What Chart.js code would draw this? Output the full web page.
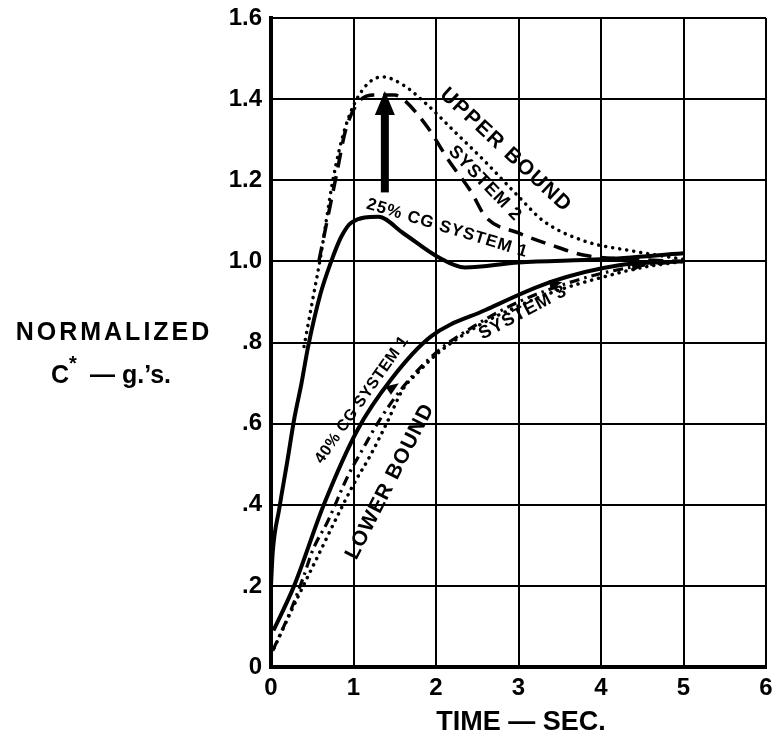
<!DOCTYPE html>
<html>
<head>
<meta charset="utf-8">
<script src="https://cdn.jsdelivr.net/npm/chart.js@4.4.0/dist/chart.umd.min.js"></script>
<style>
html,body{margin:0;padding:0;background:#fff;}
#c{display:block;}
</style>
</head>
<body>
<canvas id="c" width="772" height="740"></canvas>
<script>
// ---- data ----
const xTickValues = [0, 1, 2, 3, 4, 5, 6];
const yTickValues = [0, 0.2, 0.4, 0.6, 0.8, 1.0, 1.2, 1.4, 1.6];
const yTickLabels = ['0', '.2', '.4', '.6', '.8', '1.0', '1.2', '1.4', '1.6'];

const upperBoundX = [0.4, 0.5, 0.6, 0.75, 0.9, 1.1, 1.35, 1.6, 1.9, 2.2, 2.6, 3.0, 3.3, 3.8, 4.4, 5.0];
const upperBoundY = [0.79, 0.9, 1.01, 1.2, 1.33, 1.42, 1.455, 1.435, 1.385, 1.325, 1.245, 1.16, 1.10, 1.05, 1.025, 1.005];

const system2X = [0.58, 0.7, 0.8, 0.9, 1.05, 1.25, 1.5, 1.6, 1.9, 2.15, 2.43, 2.6, 3.0, 3.4, 3.8, 4.4, 5.0];
const system2Y = [1.0, 1.12, 1.22, 1.32, 1.39, 1.41, 1.41, 1.40, 1.33, 1.25, 1.17, 1.11, 1.07, 1.04, 1.015, 1.005, 1.0];

const cg25X = [0, 0.02, 0.1, 0.2, 0.28, 0.37, 0.45, 0.6, 0.73, 0.85, 0.97, 1.3, 1.6, 2.03, 2.35, 3.0, 4.0, 5.0];
const cg25Y = [0.2, 0.28, 0.39, 0.51, 0.61, 0.70, 0.79, 0.92, 1.0, 1.06, 1.095, 1.11, 1.07, 1.01, 0.985, 0.997, 1.005, 1.02];

const cg40X = [0.03, 0.28, 0.64, 1.05, 1.46, 1.94, 2.6, 3.4, 4.2, 5.0];
const cg40Y = [0.09, 0.2, 0.40, 0.585, 0.71, 0.815, 0.88, 0.95, 0.99, 1.0];

const system3X = [0.02, 0.23, 0.39, 0.51, 0.69, 0.93, 1.12, 1.32, 1.6, 2.0, 2.5, 3.0, 3.5, 4.0, 4.5, 5.0];
const system3Y = [0.04, 0.135, 0.22, 0.29, 0.36, 0.47, 0.54, 0.61, 0.69, 0.775, 0.845, 0.9, 0.94, 0.97, 0.99, 1.0];

const lowerBoundX = [0.0, 0.32, 0.56, 0.8, 1.0, 1.2, 1.4, 1.6, 1.8, 2.0, 2.5, 3.0, 3.5, 4.0, 4.5, 5.0];
const lowerBoundY = [0.03, 0.17, 0.27, 0.37, 0.45, 0.52, 0.6, 0.685, 0.73, 0.77, 0.84, 0.89, 0.93, 0.96, 0.985, 1.0];

// big arrow (data units)
const arrowX = 1.38, arrowFromY = 1.17, arrowToY = 1.42;
// small arrowheads along the lower curves
const markX = [1.48, 3.45, 4.45];
const markY = [0.69, 0.945, 0.99];

// curve labels
const labelTexts = ['UPPER BOUND', 'SYSTEM 2', '25% CG SYSTEM 1', '40% CG SYSTEM 1', 'LOWER BOUND', 'SYSTEM 3'];
const labelX = [2.84, 2.59, 2.13, 1.10, 1.44, 3.05];
const labelY = [1.275, 1.193, 1.082, 0.658, 0.456, 0.873];

// ---- build ----
function pts(xs, ys) { return xs.map((x, i) => ({x: x, y: ys[i]})); }
const FONT = "'Liberation Sans', Arial, Helvetica, sans-serif";

const labelStyle = [
  {angle: 43, size: 21, sp: 1.5},
  {angle: 46, size: 18, sp: 1},
  {angle: 17, size: 17, sp: 1},
  {angle: -55, size: 16, sp: 0.5},
  {angle: -63, size: 21, sp: 1},
  {angle: -28, size: 18, sp: 1}
];

const textPlugin = {
  id: 'texts',
  afterDatasetsDraw(chart) {
    const ctx = chart.ctx;
    const xs = chart.scales.x, ys = chart.scales.y;
    ctx.save();
    ctx.fillStyle = '#000';
    ctx.strokeStyle = '#000';
    // big arrow
    const ax = xs.getPixelForValue(arrowX);
    const ay0 = ys.getPixelForValue(arrowFromY);
    const ay1 = ys.getPixelForValue(arrowToY);
    ctx.lineWidth = 8;
    ctx.lineCap = 'butt';
    ctx.beginPath();
    ctx.moveTo(ax, ay0);
    ctx.lineTo(ax, ay1 + 18);
    ctx.stroke();
    ctx.beginPath();
    ctx.moveTo(ax, ay1);
    ctx.lineTo(ax - 10, ay1 + 24);
    ctx.lineTo(ax + 10, ay1 + 24);
    ctx.closePath();
    ctx.fill();
    // small arrowheads
    for (let i = 0; i < markX.length; i++) {
      const px = xs.getPixelForValue(markX[i]);
      const py = ys.getPixelForValue(markY[i]);
      ctx.save();
      ctx.translate(px, py);
      ctx.rotate(i === 0 ? -0.6 : -0.2);
      ctx.beginPath();
      ctx.moveTo(7, 0);
      ctx.lineTo(-6, -5);
      ctx.lineTo(-6, 5);
      ctx.closePath();
      ctx.fill();
      ctx.restore();
    }
    // curve labels
    ctx.textAlign = 'center';
    ctx.textBaseline = 'middle';
    for (let i = 0; i < labelTexts.length; i++) {
      const st = labelStyle[i];
      const px = xs.getPixelForValue(labelX[i]);
      const py = ys.getPixelForValue(labelY[i]);
      ctx.save();
      ctx.translate(px, py);
      ctx.rotate(st.angle * Math.PI / 180);
      ctx.font = 'bold ' + st.size + 'px ' + FONT;
      if ('letterSpacing' in ctx) ctx.letterSpacing = st.sp + 'px';
      ctx.fillText(labelTexts[i], st.sp / 2, 0);
      ctx.restore();
    }
    ctx.restore();
  },
  afterDraw(chart) {
    const ctx = chart.ctx;
    ctx.save();
    ctx.fillStyle = '#000';
    ctx.textBaseline = 'alphabetic';
    // y-axis title
    ctx.font = 'bold 25px ' + FONT;
    if ('letterSpacing' in ctx) ctx.letterSpacing = '3px';
    ctx.textAlign = 'center';
    ctx.fillText('NORMALIZED', 114, 340);
    if ('letterSpacing' in ctx) ctx.letterSpacing = '0px';
    ctx.textAlign = 'left';
    ctx.font = 'bold 25px ' + FONT;
    ctx.fillText('C', 51, 383);
    ctx.font = 'bold 20px ' + FONT;
    ctx.fillText('*', 69, 370);
    ctx.font = 'bold 25px ' + FONT;
    ctx.fillText('\u2014 g.\u2019s.', 90, 383);
    // x-axis title
    ctx.textAlign = 'center';
    ctx.font = 'bold 27px ' + FONT;
    ctx.fillText('TIME \u2014 SEC.', 521, 730);
    ctx.restore();
  }
};

const common = {fill: false, pointRadius: 0, borderColor: '#000', cubicInterpolationMode: 'monotone'};

new Chart(document.getElementById('c'), {
  type: 'line',
  data: {
    datasets: [
      Object.assign({label: 'Upper bound', data: pts(upperBoundX, upperBoundY), borderWidth: 3.5, borderDash: [0.1, 7], borderCapStyle: 'round'}, common),
      Object.assign({label: 'System 2', data: pts(system2X, system2Y), borderWidth: 3.5, borderDash: [15, 9]}, common),
      Object.assign({label: '25% CG System 1', data: pts(cg25X, cg25Y), borderWidth: 4}, common),
      Object.assign({label: '40% CG System 1', data: pts(cg40X, cg40Y), borderWidth: 4}, common),
      Object.assign({label: 'System 3', data: pts(system3X, system3Y), borderWidth: 3.2, borderDash: [10, 5, 2.5, 5]}, common),
      Object.assign({label: 'Lower bound', data: pts(lowerBoundX, lowerBoundY), borderWidth: 3.5, borderDash: [0.1, 7], borderCapStyle: 'round'}, common)
    ]
  },
  options: {
    responsive: false,
    animation: false,
    devicePixelRatio: 1,
    layout: {padding: {left: 0, right: 6, top: 18, bottom: 0}},
    plugins: {legend: {display: false}, tooltip: {enabled: false}},
    scales: {
      x: {
        type: 'linear', min: 0, max: 6,
        afterBuildTicks(s) { s.ticks = xTickValues.map(v => ({value: v})); },
        afterFit(s) { s.height = 73; s.paddingLeft = 0; s.paddingRight = 0; },
        grid: {color: '#000', lineWidth: 2, drawTicks: false},
        border: {display: true, color: '#000', width: 4},
        ticks: {color: '#000', padding: 7, maxRotation: 0, font: {family: FONT, size: 24, weight: 'bold'},
                callback: v => String(v)}
      },
      y: {
        type: 'linear', min: 0, max: 1.6,
        afterBuildTicks(s) { s.ticks = yTickValues.map(v => ({value: v})); },
        afterFit(s) { s.width = 271; s.paddingTop = 0; s.paddingBottom = 0; },
        grid: {color: '#000', lineWidth: 2, drawTicks: false},
        border: {display: true, color: '#000', width: 4},
        ticks: {color: '#000', padding: 9, font: {family: FONT, size: 24, weight: 'bold'},
                callback: (v) => { const i = yTickValues.findIndex(t => Math.abs(t - v) < 1e-6); return i >= 0 ? yTickLabels[i] : ''; }}
      }
    }
  },
  plugins: [textPlugin]
});
</script>
</body>
</html>
